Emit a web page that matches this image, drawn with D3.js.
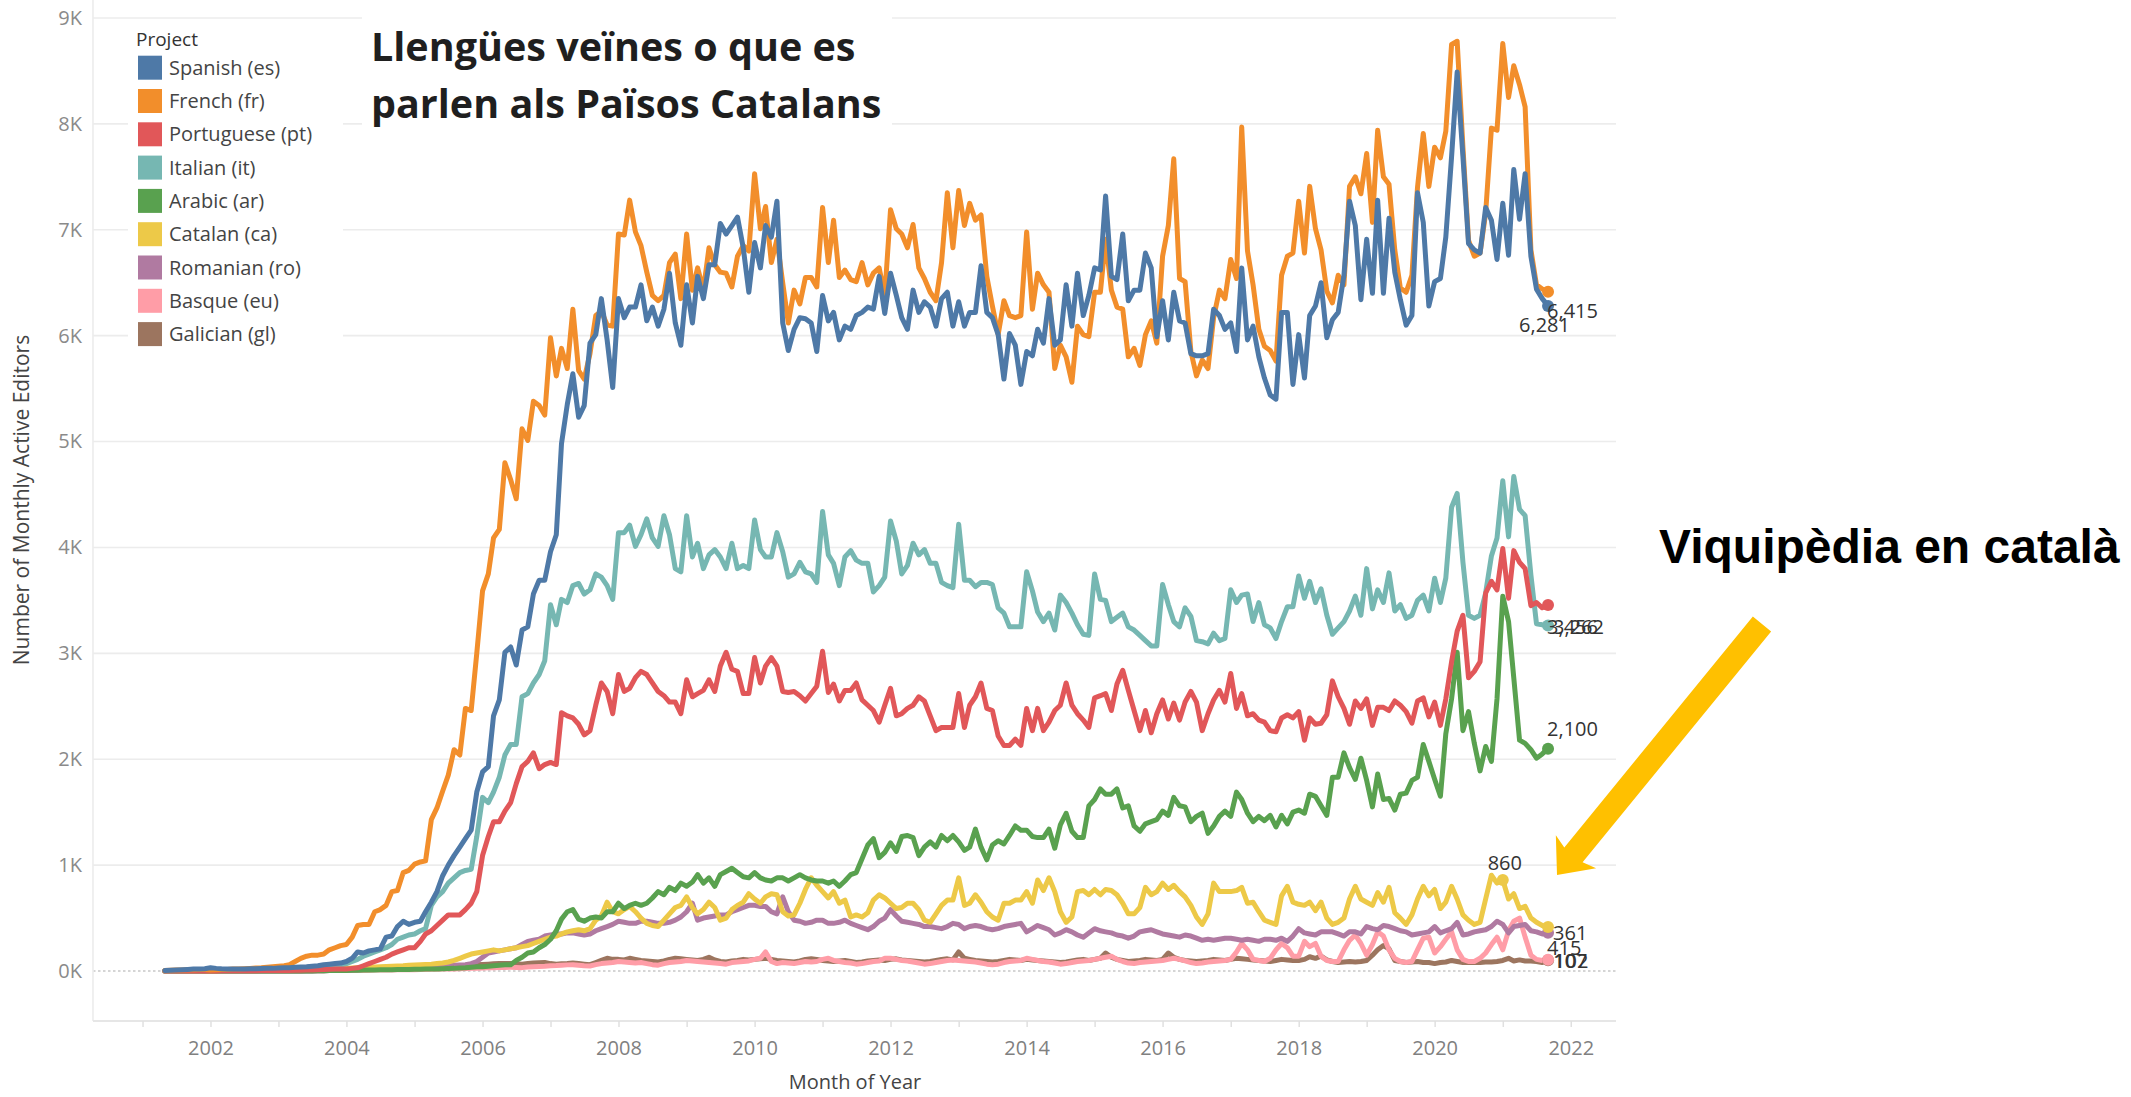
<!DOCTYPE html>
<html><head><meta charset="utf-8">
<script src="https://cdn.jsdelivr.net/npm/d3@7"></script>
<style>html,body{margin:0;padding:0;background:#fff;} svg{display:block;}</style>
</head><body>
<svg id="chart" width="2131" height="1097"></svg>
<script>
// ---------- DATA ----------
const projects = ["Spanish (es)","French (fr)","Portuguese (pt)","Italian (it)","Arabic (ar)","Catalan (ca)","Romanian (ro)","Basque (eu)","Galician (gl)"];
const codes = ["es","fr","pt","it","ar","ca","ro","eu","gl"];
const colors = ["#4E79A7","#F28E2B","#E15759","#76B7B2","#59A14F","#EDC948","#B07AA1","#FF9DA7","#9C755F"];
// months: May 2001 .. Sep 2021 (245 months)
const firstMonth = "2001-05", lastMonth = "2021-09";
const es = [
 5,8,10,12,15,18,20,22,
 30,25,22,20,20,20,20,22,22,24,25,25,
 28,30,32,35,38,40,45,50,60,65,70,75,
 90,120,180,170,190,200,210,320,330,420,470,440,
 460,470,560,650,750,900,1000,1090,1170,1250,1330,1690,
 1880,1930,2410,2560,3010,3060,2890,3220,3250,3560,3690,3690,
 3960,4120,4980,5350,5640,5230,5340,5930,6010,6350,5960,5510,
 6350,6170,6270,6270,6480,6140,6270,6090,6250,6590,6120,5910,
 6480,6120,6560,6350,6670,6670,7060,6960,7040,7120,6830,6410,
 6880,6640,7040,6930,7270,6120,5860,6060,6170,6160,6120,5850,
 6380,6140,6220,5960,6090,6060,6190,6220,6270,6250,6560,6210,
 6590,6380,6170,6060,6430,6220,6320,6270,6090,6350,6410,6090,
 6320,6090,6220,6220,6660,6220,6170,6010,5590,6020,5910,5540,
 5850,5810,6060,5930,6350,5910,5960,6480,6090,6590,6190,6380,
 6640,6620,7320,6560,6530,6960,6330,6430,6430,6780,6640,5990,
 6330,5960,6410,6140,6120,5830,5810,5810,5830,6250,6190,6060,
 6120,5850,6640,5960,6090,5800,5600,5440,5400,6220,6220,5540,
 6010,5600,6190,6280,6500,5980,6150,6220,6570,7270,7040,6340,
 6910,6400,7280,6400,7110,6600,6340,6100,6190,7350,7070,6280,
 6510,6540,6930,7690,8490,7690,6870,6810,6780,7210,7090,6720,
 7250,6760,7570,7100,7530,6750,6440,6350,6281];
const fr = [
 5,8,10,10,12,12,15,15,
 10,12,15,15,18,20,22,25,28,30,35,40,
 45,50,60,90,120,140,150,150,160,200,220,240,
 250,320,430,440,440,560,580,620,750,760,930,950,
 1010,1030,1040,1430,1540,1700,1850,2090,2040,2480,2460,3000,
 3590,3750,4090,4170,4800,4640,4460,5120,5010,5380,5340,5250,
 5980,5620,5880,5690,6250,5670,5590,5830,6190,6230,6100,6090,
 6960,6950,7280,6980,6850,6600,6380,6330,6380,6690,6770,6350,
 6960,6430,6640,6430,6830,6670,6600,6590,6460,6750,6850,6800,
 7530,7010,7220,6690,6910,6500,6120,6430,6300,6550,6550,6460,
 7210,6690,7090,6550,6620,6530,6510,6690,6480,6590,6640,6380,
 7190,7010,6960,6830,7050,6640,6540,6410,6330,6690,7350,6830,
 7370,7040,7250,7090,7140,6560,6280,6010,6330,6190,6170,6190,
 6980,6250,6590,6480,6410,5690,5910,5800,5560,6090,6010,5990,
 6410,6410,6910,6430,6270,6250,5800,5880,5720,6010,6140,5930,
 6750,7040,7670,6540,6510,5850,5620,5770,5690,6170,6430,6350,
 6720,6540,7970,6800,6480,6060,5900,5860,5760,6570,6750,6780,
 7270,6780,7410,7010,6810,6420,6310,6570,6480,7410,7500,7340,
 7720,7070,7940,7500,7430,6810,6450,6410,6570,7400,7910,7410,
 7780,7680,7930,8750,8780,7780,6900,6750,6780,7160,7960,7940,
 8760,8250,8550,8370,8160,6810,6480,6440,6415];
const pt = [
 0,0,0,0,1,1,1,1,
 1,1,2,2,2,2,3,3,3,4,4,5,
 5,6,6,7,8,9,10,12,14,16,18,20,
 20,25,30,50,70,90,110,130,160,180,200,220,
 220,280,350,380,430,480,530,530,530,580,640,750,
 1090,1270,1410,1410,1510,1590,1770,1930,1980,2060,1910,1950,
 1970,1950,2440,2410,2390,2330,2230,2270,2510,2720,2640,2430,
 2800,2640,2670,2770,2830,2800,2720,2640,2600,2540,2540,2430,
 2750,2590,2620,2650,2750,2640,2880,3010,2850,2830,2620,2620,
 2960,2720,2880,2960,2880,2640,2630,2640,2600,2550,2620,2690,
 3020,2630,2710,2550,2650,2650,2720,2560,2510,2460,2350,2510,
 2670,2410,2430,2480,2510,2590,2550,2410,2270,2300,2300,2300,
 2620,2300,2510,2590,2720,2480,2460,2220,2130,2130,2190,2130,
 2480,2270,2480,2270,2350,2460,2510,2720,2510,2430,2370,2300,
 2580,2600,2620,2460,2710,2840,2650,2460,2270,2460,2250,2430,
 2560,2380,2530,2370,2540,2640,2540,2270,2430,2560,2650,2540,
 2810,2480,2620,2410,2430,2370,2350,2270,2260,2390,2420,2390,
 2450,2180,2390,2330,2340,2420,2740,2590,2480,2330,2550,2480,
 2570,2320,2490,2490,2460,2550,2510,2450,2340,2550,2580,2400,
 2540,2320,2570,2920,3210,3360,2770,2830,2920,3570,3680,3600,
 3990,3520,3970,3860,3800,3450,3480,3430,3456];
const it = [
 1,1,2,2,3,3,3,4,
 4,5,5,6,6,7,7,8,8,9,10,10,
 12,14,15,18,20,25,30,35,40,45,50,55,
 70,90,110,140,160,180,200,220,250,300,320,340,
 350,380,400,620,700,750,830,880,930,950,960,1270,
 1640,1590,1690,1830,2040,2140,2140,2590,2620,2720,2800,2930,
 3460,3270,3510,3480,3640,3660,3560,3600,3750,3720,3640,3510,
 4140,4140,4210,4010,4120,4270,4090,4010,4300,4120,3800,3770,
 4300,3910,4040,3800,3930,3980,3910,3800,4040,3800,3830,3800,
 4260,3980,3910,3910,4140,3960,3720,3750,3860,3770,3750,3670,
 4340,3930,3850,3640,3910,3970,3880,3850,3850,3580,3640,3720,
 4250,4060,3750,3830,4040,3930,3980,3850,3850,3670,3640,3620,
 4220,3690,3690,3630,3670,3670,3650,3430,3380,3250,3250,3250,
 3770,3590,3390,3300,3380,3220,3550,3480,3380,3270,3180,3170,
 3750,3510,3500,3300,3340,3380,3250,3220,3170,3120,3070,3070,
 3650,3460,3300,3250,3430,3350,3120,3110,3090,3190,3120,3140,
 3600,3480,3550,3560,3300,3480,3270,3240,3140,3300,3440,3440,
 3730,3520,3680,3480,3610,3360,3180,3240,3300,3400,3540,3360,
 3800,3420,3600,3480,3760,3400,3460,3330,3360,3500,3550,3400,
 3710,3480,3710,4380,4510,3860,3360,3330,3360,3570,3920,4090,
 4630,4100,4670,4360,4300,3740,3280,3270,3262];
const ar = [
 0,0,0,0,0,0,0,0,
 0,0,0,0,0,0,0,0,0,0,0,0,
 0,0,0,0,0,0,1,2,3,4,5,6,
 6,7,8,9,10,10,11,12,13,14,15,15,
 16,17,18,20,20,22,24,25,28,30,35,40,
 40,45,50,55,60,60,100,130,170,180,220,250,
 300,380,490,560,580,490,470,500,510,500,560,560,
 640,590,620,640,620,640,690,750,720,790,760,830,
 800,840,910,830,880,800,910,940,970,930,890,880,
 930,880,860,850,880,880,850,880,910,880,860,850,
 850,830,850,800,850,910,930,1060,1190,1250,1070,1120,
 1210,1130,1270,1280,1260,1090,1170,1220,1170,1280,1230,1280,
 1220,1140,1170,1340,1170,1050,1190,1230,1200,1280,1370,1330,
 1330,1270,1260,1260,1340,1160,1380,1490,1320,1260,1260,1560,
 1620,1720,1670,1670,1720,1540,1560,1370,1320,1390,1410,1430,
 1510,1470,1640,1560,1550,1410,1460,1490,1300,1370,1460,1510,
 1460,1690,1620,1490,1410,1460,1420,1470,1360,1470,1390,1500,
 1520,1490,1670,1650,1560,1470,1830,1830,2060,1920,1810,2010,
 1800,1550,1860,1620,1630,1520,1670,1680,1800,1830,2140,1980,
 1810,1650,2240,2570,3010,2270,2450,2150,1890,2120,1980,2570,
 3540,3300,2770,2180,2150,2090,2010,2050,2100];
const ca = [
 1,1,1,2,2,2,2,3,
 3,3,4,4,5,5,6,6,7,7,8,8,
 9,10,10,12,13,14,15,16,18,20,22,24,
 25,28,30,32,35,38,40,42,45,48,50,55,
 58,60,62,65,70,75,85,100,120,140,160,170,
 180,190,200,190,200,210,220,230,240,260,280,300,
 320,330,350,370,380,390,380,400,480,520,650,560,
 540,580,610,560,500,450,430,420,480,540,600,620,
 700,600,540,580,650,600,480,500,580,620,650,730,
 680,640,700,730,720,560,520,530,640,770,880,810,
 750,690,750,640,670,510,530,510,550,670,720,690,
 640,590,600,640,640,580,480,460,540,620,670,670,
 880,620,640,720,650,560,510,480,640,640,670,670,
 750,640,860,760,880,750,560,460,510,750,760,720,
 770,720,770,760,720,640,540,540,600,790,720,750,
 830,770,810,750,700,620,510,440,540,830,750,750,
 750,760,790,640,650,560,480,460,440,710,800,650,
 630,620,650,570,650,500,440,460,500,680,800,680,
 650,620,740,650,790,550,500,440,530,680,800,710,
 770,590,650,800,680,530,480,440,460,680,905,830,
 860,680,730,590,610,500,460,430,415];
const ro = [
 0,0,0,0,0,0,0,0,
 0,0,0,0,0,0,0,0,0,0,0,0,
 0,0,0,0,0,0,1,2,3,4,5,6,
 8,10,12,15,18,20,22,25,28,30,33,35,
 38,40,42,45,48,50,52,55,58,60,70,90,
 130,170,180,190,200,210,220,250,280,290,300,330,
 340,350,350,360,360,350,340,350,380,400,420,440,
 470,460,450,450,470,470,460,450,450,460,480,510,
 560,640,480,500,510,520,530,530,560,580,600,620,
 620,610,610,560,540,700,560,480,470,450,460,480,
 480,450,450,460,480,450,430,410,390,420,470,500,
 580,520,470,460,450,440,420,420,410,400,420,450,
 440,400,420,430,420,400,390,400,420,430,440,450,
 370,400,430,410,390,340,360,390,370,340,320,360,
 400,380,370,360,340,330,310,330,370,380,390,370,
 350,340,330,320,340,330,310,290,300,290,300,310,
 310,300,290,300,290,280,300,300,290,310,280,330,
 400,360,350,340,370,370,370,350,330,370,370,350,
 420,400,390,430,420,400,380,370,340,350,360,370,
 420,360,380,400,460,340,350,370,380,390,420,470,
 440,360,420,430,440,380,370,350,361];
const eu = [
 0,0,0,0,0,0,0,0,
 0,0,1,1,1,1,1,2,2,2,2,2,
 2,3,3,3,3,4,4,4,5,5,5,6,
 6,7,7,8,8,9,9,10,10,11,12,12,
 13,14,15,16,17,18,19,20,22,24,25,27,
 28,30,32,33,34,35,34,32,38,40,42,45,
 50,52,55,58,60,55,50,48,60,70,75,80,
 90,85,80,75,80,70,60,55,70,80,85,90,
 100,95,90,85,80,75,70,65,80,85,90,95,
 110,120,180,90,70,80,75,70,80,90,85,90,
 110,120,100,90,80,75,65,70,80,90,95,120,
 120,110,100,95,85,75,65,70,80,90,100,105,
 100,95,90,85,75,65,60,65,80,90,95,100,
 120,110,100,90,85,75,65,70,80,90,95,100,
 110,120,130,140,110,90,75,70,80,85,90,95,
 100,110,120,110,95,80,70,75,85,90,95,100,
 110,180,260,200,110,100,90,120,200,260,220,140,
 140,280,230,260,140,100,90,90,200,290,340,260,
 150,250,370,330,200,120,90,80,90,200,310,320,
 170,230,300,370,200,110,90,90,120,170,250,320,
 200,380,470,500,320,150,110,100,107];
const gl = [
 0,0,0,0,0,0,0,0,
 0,0,0,0,0,0,0,0,0,0,0,0,
 0,0,0,1,1,2,2,3,3,4,5,6,
 7,8,9,10,12,14,15,16,18,20,22,25,
 28,30,32,35,38,40,42,45,48,50,55,60,
 62,65,68,70,72,70,68,65,70,75,78,80,
 70,65,68,70,75,70,65,60,80,100,120,110,
 110,105,120,110,100,95,90,85,95,110,120,115,
 110,105,100,110,130,105,90,85,95,100,110,105,
 110,115,120,110,100,95,90,85,95,110,115,110,
 100,95,90,95,100,90,80,85,95,100,105,100,
 110,115,105,100,95,90,85,90,100,110,115,105,
 180,120,110,100,95,90,85,90,100,110,105,100,
 110,105,100,95,90,85,80,85,95,105,110,100,
 110,120,170,130,110,100,90,95,100,110,105,100,
 110,170,130,110,100,95,90,95,100,110,105,100,
 110,120,115,110,105,100,95,90,100,110,105,100,
 100,110,135,120,140,105,90,80,85,90,85,90,
 100,150,200,240,210,100,90,80,85,90,80,80,
 70,80,85,100,90,80,80,80,80,85,85,90,
 100,120,95,105,95,95,90,80,102];
const seriesValues = [es, fr, pt, it, ar, ca, ro, eu, gl];
const yTickValues = [0,1000,2000,3000,4000,5000,6000,7000,8000,9000];
const xTickYears = d3.range(2001, 2023);
const xLabelYears = [2002,2004,2006,2008,2010,2012,2014,2016,2018,2020,2022];
const annotatedPoint = {code:"ca", month:"2021-01", value:860};
const titleLines = ["Llengües veïnes o que es", "parlen als Països Catalans"];
const calloutText = "Viquipèdia en català";

// ---------- LAYOUT / STYLE ----------
const W = 2131, H = 1097;
const plot = {left: 93, right: 1616, top: 0, bottom: 1021};
const parse = d3.timeParse("%Y-%m");
const months = d3.timeMonth.range(parse(firstMonth), d3.timeMonth.offset(parse(lastMonth), 1));

const x = d3.scaleTime()
  .domain([new Date(2000, 3, 10), new Date(2022, 8, 1)])
  .range([plot.left, plot.right]);
const y = d3.scaleLinear().domain([-472, 9170]).range([plot.bottom, plot.top]);

const svg = d3.select("#chart");
svg.append("rect").attr("width", W).attr("height", H).attr("fill", "#fff");

const FONT = "'Open Sans', 'DejaVu Sans', sans-serif";

// gridlines
const g = svg.append("g");
g.selectAll("line.grid").data(yTickValues.filter(v => v !== 0)).join("line")
  .attr("x1", plot.left).attr("x2", plot.right)
  .attr("y1", d => y(d)).attr("y2", d => y(d))
  .attr("stroke", "#ececec").attr("stroke-width", 1.6);
// zero line dotted
g.append("line").attr("x1", plot.left).attr("x2", plot.right)
  .attr("y1", y(0)).attr("y2", y(0))
  .attr("stroke", "#c8c8c8").attr("stroke-width", 1.6).attr("stroke-dasharray", "2.5,2.5");
// left axis line & bottom axis line
g.append("line").attr("x1", plot.left).attr("x2", plot.left).attr("y1", plot.top).attr("y2", plot.bottom)
  .attr("stroke", "#ececec").attr("stroke-width", 1.6);
g.append("line").attr("x1", plot.left).attr("x2", plot.right).attr("y1", plot.bottom).attr("y2", plot.bottom)
  .attr("stroke", "#e6e6e6").attr("stroke-width", 2);

// y axis
const yAxis = d3.axisLeft(y).tickValues(yTickValues).tickFormat(d => (d/1000) + "K").tickSize(0).tickPadding(0);
const yAx = svg.append("g").attr("transform", `translate(${82},0)`).call(yAxis);
yAx.select(".domain").remove();
yAx.selectAll("text").attr("font-family", FONT).attr("font-size", 20).attr("fill", "#8a8a8a");

// x axis
const xAxis = d3.axisBottom(x).tickValues(xTickYears.map(yr => new Date(yr, 0, 1)))
  .tickFormat(d => xLabelYears.includes(d.getFullYear()) ? d.getFullYear() : "")
  .tickSize(6).tickPadding(14);
const xAx = svg.append("g").attr("transform", `translate(0,${plot.bottom})`).call(xAxis);
xAx.select(".domain").remove();
xAx.selectAll(".tick line").attr("stroke", "#e0e0e0").attr("stroke-width", 1.5);
xAx.selectAll("text").attr("font-family", FONT).attr("font-size", 20).attr("fill", "#808080");

// axis titles
svg.append("text").attr("transform", `translate(29,500) rotate(-90)`)
  .attr("text-anchor", "middle").attr("font-family", FONT).attr("font-size", 21).attr("fill", "#444")
  .text("Number of Monthly Active Editors");
svg.append("text").attr("x", 855).attr("y", 1089)
  .attr("text-anchor", "middle").attr("font-family", FONT).attr("font-size", 20).attr("fill", "#444")
  .text("Month of Year");

// lines
const line = d3.line().x((d, i) => x(months[i])).y(d => y(d)).curve(d3.curveLinear);
const order = d3.range(projects.length).reverse();
const linesG = svg.append("g");
order.forEach(k => {
  linesG.append("path").datum(seriesValues[k])
    .attr("d", line).attr("fill", "none")
    .attr("stroke", colors[k]).attr("stroke-width", 5)
    .attr("stroke-linejoin", "round").attr("stroke-linecap", "round");
});
// end markers
order.forEach(k => {
  const v = seriesValues[k];
  linesG.append("circle").attr("cx", x(months[v.length - 1])).attr("cy", y(v[v.length - 1]))
    .attr("r", 6).attr("fill", colors[k]);
});
// annotated Catalan point
const caIdx = codes.indexOf(annotatedPoint.code);
const annDate = parse(annotatedPoint.month);
linesG.append("circle").attr("cx", x(annDate)).attr("cy", y(annotatedPoint.value))
  .attr("r", 6).attr("fill", colors[caIdx]);
svg.append("text").attr("x", x(annDate) + 2).attr("y", y(annotatedPoint.value) - 10)
  .attr("text-anchor", "middle").attr("font-family", FONT).attr("font-size", 20).attr("fill", "#333")
  .text(d3.format(",")(annotatedPoint.value));

// end labels (offsets from end mark)
const labelOffsets = {es:[-29,26], fr:[-1,26], pt:[-1,29], it:[5,8], ar:[-1,-13], ca:[-1,28], ro:[5,7], eu:[5,8], gl:[6,8]};
codes.forEach((c, k) => {
  const v = seriesValues[k];
  const last = v[v.length - 1];
  const [dx, dy] = labelOffsets[c];
  svg.append("text").attr("x", x(months[v.length - 1]) + dx).attr("y", y(last) + dy)
    .attr("font-family", FONT).attr("font-size", 20).attr("fill", "#333")
    .text(d3.format(",")(last));
});

// legend
const leg = svg.append("g");
leg.append("rect").attr("x", 128).attr("y", 22).attr("width", 215).attr("height", 330).attr("fill", "#fff");
leg.append("text").attr("x", 136).attr("y", 46).attr("font-family", FONT).attr("font-size", 19)
  .attr("fill", "#333").text("Project");
projects.forEach((p, k) => {
  const cy = 67.7 + k * 33.3;
  leg.append("rect").attr("x", 138).attr("y", cy - 12).attr("width", 24).attr("height", 24).attr("fill", colors[k]);
  leg.append("text").attr("x", 169).attr("y", cy).attr("dy", "0.35em")
    .attr("font-family", FONT).attr("font-size", 20).attr("fill", "#444").text(p);
});

// title
svg.append("rect").attr("x", 362).attr("y", 6).attr("width", 530).attr("height", 126).attr("fill", "#fff");
titleLines.forEach((t, i) => {
  svg.append("text").attr("x", 371).attr("y", 61 + i * 57)
    .attr("font-family", "'Open Sans', sans-serif").attr("font-weight", 700).attr("font-size", 39.5)
    .attr("fill", "#1f1f1f").text(t);
});

// callout
svg.append("text").attr("x", 1659).attr("y", 563)
  .attr("font-family", "'Liberation Sans', Arial, sans-serif").attr("font-weight", 700).attr("font-size", 48)
  .attr("fill", "#000").text(calloutText);

// arrow
const tail = [1762, 624], tip = [1557, 875];
const ux = tip[0] - tail[0], uy = tip[1] - tail[1];
const L = Math.hypot(ux, uy);
const u = [ux / L, uy / L], n = [-u[1], u[0]];
const sw = 11.8, hw = 26, hl = 30;
const P = (a, b) => [tip[0] - u[0] * a + n[0] * b, tip[1] - u[1] * a + n[1] * b];
const tailP = (b) => [tail[0] + n[0] * b, tail[1] + n[1] * b];
const pts = [tailP(sw), P(hl - 4, sw), P(hl, hw), tip, P(hl, -hw), P(hl - 4, -sw), tailP(-sw)];
svg.append("path").attr("d", d3.line()(pts) + "Z").attr("fill", "#FFC000");

// sanity check
seriesValues.forEach((v, k) => {
  if (v.length !== months.length) {
    svg.append("text").attr("x", 900).attr("y", 400 + k * 24).attr("fill", "red").attr("font-size", 20)
      .text(codes[k] + " length " + v.length + " vs " + months.length);
  }
});
</script>
</body></html>
